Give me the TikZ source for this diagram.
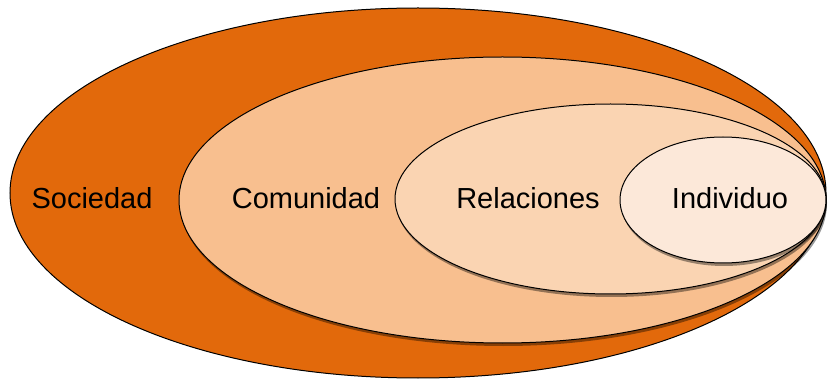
\documentclass[tikz,border=0pt]{standalone}
\usepackage{fontspec}
\setmainfont{Liberation Sans}
\usetikzlibrary{shadows}
\definecolor{c1}{HTML}{E2690B}
\definecolor{c2}{HTML}{F8BF8F}
\definecolor{c3}{HTML}{FAD4B2}
\definecolor{c4}{HTML}{FCE8D9}
\tikzset{
  ring/.style={draw=black, line width=1pt},
  shad/.style={drop shadow={shadow xshift=1pt, shadow yshift=-3pt, opacity=0.4, fill=black}},
  lbl/.style={font=\fontsize{29}{33}\selectfont, text=black, inner sep=0pt}
}
\begin{document}
\begin{tikzpicture}[x=1pt,y=1pt]
\useasboundingbox (0,0) rectangle (828,378);
\fill[white] (0,0) rectangle (828,378);
\path[ring, fill=c1] (418,185) ellipse [x radius=408, y radius=185];
\path[ring, fill=c2, shad] (502.5,178) ellipse [x radius=323.5, y radius=143];
\path[ring, fill=c3, shad] (610.5,179) ellipse [x radius=215.5, y radius=95];
\path[ring, fill=c4, shad] (723,178) ellipse [x radius=103, y radius=63];
\node[lbl] (soc) at (92,180) {Sociedad};
\node[lbl] (com) at (306,180) {Comunidad};
\node[lbl] (rel) at (528,180) {Relaciones};
\node[lbl] (ind) at (730,180) {Individuo};
\end{tikzpicture}
\end{document}
